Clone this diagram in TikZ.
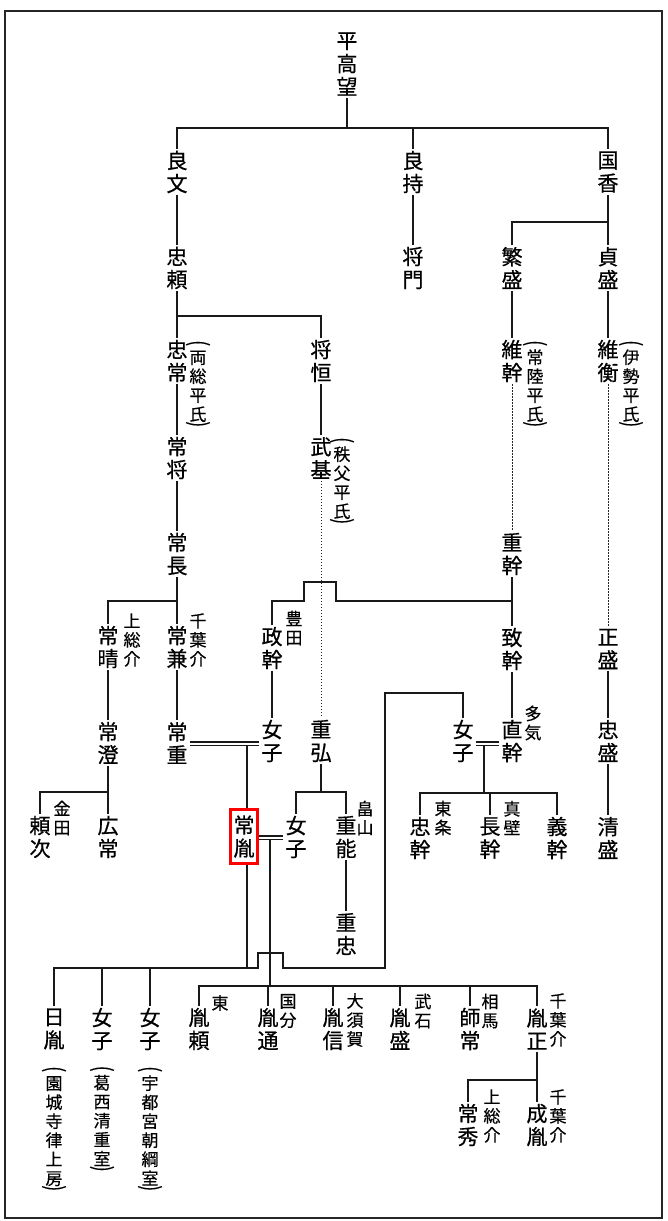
\documentclass[tikz,border=0pt]{standalone}
\usepackage{fontspec}
\usepackage{graphicx}
\newfontfamily\jp{Noto Sans CJK JP}[FakeBold=0.6]
\newfontfamily\jps{Noto Sans CJK JP}[FakeBold=0.4]
\newcommand\vlp{\rotatebox[origin=c]{-90}{\scalebox{1}[1.4]{(}}}
\newcommand\vrp{\rotatebox[origin=c]{-90}{\scalebox{1}[1.4]{)}}}
\begin{document}
\begin{tikzpicture}[x=1pt,y=-1pt,
  nm/.style={font=\jp\fontsize{21}{23}\selectfont, align=center, inner sep=2pt},
  an/.style={font=\jps\fontsize{17}{19}\selectfont, align=center, inner sep=0pt},
  ln/.style={line width=1.2pt, draw=black!90},
  dl/.style={line width=0.9pt, draw=black!85, dash pattern=on 1.4pt off 1.6pt},
  hl/.style={draw=red, line width=2.6pt, minimum width=27.4pt, minimum height=54.4pt}]
\useasboundingbox (0,0) rectangle (668,1221);
\draw[line width=1.4pt, black!85] (5,11) rectangle (662,1218);
% ---------- names ----------
\node[nm] (takamochi) at (347,64) {平\\高\\望};
\node[nm] (yoshifumi) at (177,172) {良\\文};
\node[nm] (yoshimochi) at (413,172) {良\\持};
\node[nm] (kunika) at (608,172) {国\\香};
\node[nm] (tadayori) at (177,268) {忠\\頼};
\node[nm] (masakado) at (413,268) {将\\門};
\node[nm] (shigemori) at (512,268) {繁\\盛};
\node[nm] (sadamori) at (608,268) {貞\\盛};
\node[nm] (tadatsune) at (177,361) {忠\\常};
\node[nm] (masatsune) at (321,361) {将\\恒};
\node[nm] (koremoto) at (512,361) {維\\幹};
\node[nm] (korehira) at (608,361) {維\\衡};
\node[nm] (tsunemasa) at (177,458) {常\\将};
\node[nm] (takemoto) at (321,458) {武\\基};
\node[nm] (tsunenaga) at (177,554) {常\\長};
\node[nm] (shigemoto) at (512,554) {重\\幹};
\node[nm] (tsuneharu) at (108,647) {常\\晴};
\node[nm] (tsunekane) at (177,647) {常\\兼};
\node[nm] (masamoto) at (272,648) {政\\幹};
\node[nm] (munemoto) at (512,649) {致\\幹};
\node[nm] (masamori) at (608,649) {正\\盛};
\node[nm] (tsunezumi) at (108,743) {常\\澄};
\node[nm] (tsuneshige) at (177,743) {常\\重};
\node[nm] (joshiA) at (272,741) {女\\子};
\node[nm] (shigehiro) at (321,741) {重\\弘};
\node[nm] (joshiB) at (463,741) {女\\子};
\node[nm] (naomoto) at (512,741) {直\\幹};
\node[nm] (tadamori) at (608,741) {忠\\盛};
\node[nm] (yoritsugu) at (40,837) {頼\\次};
\node[nm] (hirotsune) at (108,837) {広\\常};
\node[nm, hl] (tsunetane) at (244,836.5) {常\\胤};
\node[nm] (joshiC) at (296,837) {女\\子};
\node[nm] (shigeyoshi) at (346,837) {重\\能};
\node[nm] (tadamoto) at (420,838) {忠\\幹};
\node[nm] (nagamoto) at (490,838) {長\\幹};
\node[nm] (yoshimoto) at (557,838) {義\\幹};
\node[nm] (kiyomori) at (608,838) {清\\盛};
\node[nm] (shigetada) at (346,934) {重\\忠};
\node[nm] (nichiin) at (54,1029) {日\\胤};
\node[nm] (joshiD) at (102,1029) {女\\子};
\node[nm] (joshiE) at (150,1029) {女\\子};
\node[nm] (taneyori) at (199,1029) {胤\\頼};
\node[nm] (tanemichi) at (268,1029) {胤\\通};
\node[nm] (tanenobu) at (333,1029) {胤\\信};
\node[nm] (tanemori) at (400,1029) {胤\\盛};
\node[nm] (morotsune) at (470,1029) {師\\常};
\node[nm] (tanemasa) at (537,1029) {胤\\正};
\node[nm] (tsunehide) at (468,1125) {常\\秀};
\node[nm] (naritane) at (537,1125) {成\\胤};
% ---------- annotations ----------
\node[an] (n1) at (198,386) {\vlp\\[-6pt]両\\総\\平\\氏\\[-8pt]\vrp};
\node[an] (n2) at (535,386) {\vlp\\[-6pt]常\\陸\\平\\氏\\[-8pt]\vrp};
\node[an] (n3) at (631,386) {\vlp\\[-6pt]伊\\勢\\平\\氏\\[-8pt]\vrp};
\node[an] (n4) at (342,483) {\vlp\\[-6pt]秩\\父\\平\\氏\\[-8pt]\vrp};
\node[an] (n5) at (132,640) {上\\総\\介};
\node[an] (n6) at (198,640) {千\\葉\\介};
\node[an] (n7) at (294,628) {豊\\田};
\node[an] (n8) at (533,723) {多\\気};
\node[an] (n9) at (62,818) {金\\田};
\node[an] (n10) at (365,818) {畠\\山};
\node[an] (n11) at (443,818) {東\\条};
\node[an] (n12) at (512,818) {真\\壁};
\node[an] (n13) at (220,1003) {東};
\node[an] (n14) at (288,1011) {国\\分};
\node[an] (n15) at (355,1020) {大\\須\\賀};
\node[an] (n16) at (423,1011) {武\\石};
\node[an] (n17) at (490,1011) {相\\馬};
\node[an] (n18) at (558,1020) {千\\葉\\介};
\node[an] (n19) at (492,1116) {上\\総\\介};
\node[an] (n20) at (558,1116) {千\\葉\\介};
\node[an] (n21) at (54,1131) {\vlp\\[-6pt]園\\城\\寺\\律\\上\\房\\[-8pt]\vrp};
\node[an] (n22) at (102,1121) {\vlp\\[-6pt]葛\\西\\清\\重\\室\\[-8pt]\vrp};
\node[an] (n23) at (150,1131) {\vlp\\[-6pt]宇\\都\\宮\\朝\\綱\\室\\[-8pt]\vrp};
% ---------- junction coordinates ----------
\coordinate (a0) at (347,128);
\coordinate (b0) at (608,222);
\coordinate (c0) at (177,316);
\coordinate (d0) at (177,601);
\coordinate (e0) at (512,601);
\coordinate (f0) at (108,792);
\coordinate (g0) at (321,792);
\coordinate (h0) at (484,793);
\coordinate (k0) at (247,968);
\coordinate (m0) at (270,986);
\coordinate (p0) at (537,1080);
% ---------- connectors ----------
\draw[ln] (takamochi.south) -- (a0);
\draw[ln] (yoshifumi.north) |- (a0) -| (kunika.north);
\draw[ln] (yoshimochi.north) -- (yoshimochi.north |- a0);
\draw[ln] (yoshifumi) -- (tadayori);
\draw[ln] (yoshimochi) -- (masakado);
\draw[ln] (kunika) -- (sadamori);
\draw[ln] (shigemori.north) |- (b0);
\draw[ln] (tadayori) -- (tadatsune);
\draw[ln] (c0) -| (masatsune.north);
\draw[ln] (shigemori) -- (koremoto);
\draw[ln] (sadamori) -- (korehira);
\draw[ln] (tadatsune) -- (tsunemasa) -- (tsunenaga);
\draw[ln] (masatsune) -- (takemoto);
\draw[dl] (takemoto) -- (shigehiro);
\draw[dl] (koremoto) -- (shigemoto);
\draw[dl] (korehira) -- (masamori);
\draw[ln] (tsunenaga) -- (tsunekane);
\draw[ln] (tsuneharu.north) |- (d0);
\draw[ln] (shigemoto) -- (munemoto);
\draw[ln] (e0) -- (336,601) -- (336,582) -- (304,582) -- (304,601) -| (masamoto.north);
\draw[ln] (masamoto) -- (joshiA);
\draw[ln] (tsuneharu) -- (tsunezumi);
\draw[ln] (tsunekane) -- (tsuneshige);
\draw[ln] (munemoto) -- (naomoto);
\draw[ln] (masamori) -- (tadamori) -- (kiyomori);
% marriage 常重 = 女子
\draw[ln] (tsuneshige.east |- 0,742) -- (joshiA.west |- 0,742);
\draw[ln] (tsuneshige.east |- 0,745.5) -- (joshiA.west |- 0,745.5);
\draw[ln] (247,745.5) -- (tsunetane.north -| k0);
\draw[ln] (tsunetane.south -| k0) -- (k0);
% 常澄 children
\draw[ln] (tsunezumi) -- (hirotsune);
\draw[ln] (yoritsugu.north) |- (f0);
% 重弘 children
\draw[ln] (shigehiro) -- (g0);
\draw[ln] (joshiC.north) |- (g0) -| (shigeyoshi.north);
\draw[ln] (shigeyoshi) -- (shigetada);
% marriage 常胤 = 女子
\draw[ln] (tsunetane.east |- 0,836) -- (joshiC.west |- 0,836);
\draw[ln] (tsunetane.east |- 0,839.5) -- (joshiC.west |- 0,839.5);
\draw[ln] (270,839.5) -- (m0);
% line from 女子 (多気)
\draw[ln] (joshiB.north) |- (385,693) -- (385,968) -- (283,968) -- (283,953) -- (258,953) -- (258,968) -- (k0) -| (nichiin.north);
\draw[ln] (joshiD.north) -- (joshiD.north |- k0);
\draw[ln] (joshiE.north) -- (joshiE.north |- k0);
% marriage 女子 = 直幹
\draw[ln] (joshiB.east |- 0,742) -- (naomoto.west |- 0,742);
\draw[ln] (joshiB.east |- 0,745.5) -- (naomoto.west |- 0,745.5);
\draw[ln] (484,745.5) -- (h0);
\draw[ln] (tadamoto.north) |- (h0) -| (yoshimoto.north);
\draw[ln] (nagamoto.north) -- (nagamoto.north |- h0);
% 常胤 children (right group)
\draw[ln] (taneyori.north) |- (m0) -| (tanemasa.north);
\draw[ln] (tanemichi.north) -- (tanemichi.north |- m0);
\draw[ln] (tanenobu.north) -- (tanenobu.north |- m0);
\draw[ln] (tanemori.north) -- (tanemori.north |- m0);
\draw[ln] (morotsune.north) -- (morotsune.north |- m0);
% 胤正 children
\draw[ln] (tanemasa) -- (naritane);
\draw[ln] (tsunehide.north) |- (p0);
\end{tikzpicture}
\end{document}
